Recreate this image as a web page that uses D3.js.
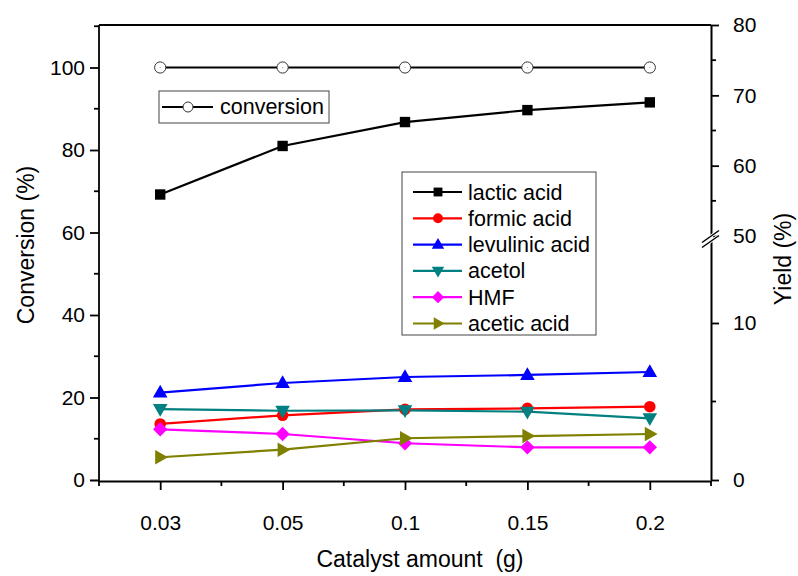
<!DOCTYPE html>
<html><head><meta charset="utf-8">
<script src="https://cdn.jsdelivr.net/npm/d3@7"></script>
<style>
html,body{margin:0;padding:0;background:#fff;}
text{font-family:"Liberation Sans",Arial,sans-serif;fill:#000;}
</style></head>
<body>
<svg id="chart" width="798" height="576"></svg>
<script>
// ---- data ----
const categories = ["0.03", "0.05", "0.1", "0.15", "0.2"];
const conversion = [100, 100, 100, 100, 100];
const lacticAcid = [55.9, 62.8, 66.2, 67.9, 69.0];
const formicAcid = [3.57, 4.12, 4.50, 4.56, 4.67];
const levulinicAcid = [5.57, 6.18, 6.56, 6.69, 6.88];
const acetol = [4.52, 4.41, 4.44, 4.35, 3.93];
const hmf = [3.23, 2.93, 2.34, 2.08, 2.08];
const aceticAcid = [1.45, 1.93, 2.66, 2.80, 2.93];
const leftTicks = [0, 20, 40, 60, 80, 100];
const leftMinor = [10, 30, 50, 70, 90, 110];
const rightTicks = [0, 10, 50, 60, 70, 80];
const rightMinor = [5, 55, 65, 75];
const seriesNames = ["lactic acid", "formic acid", "levulinic acid", "acetol", "HMF", "acetic acid"];

const svg = d3.select("#chart");
const X0 = 99, X1 = 711, YB = 480, YT = 25;

const x = d3.scalePoint().domain(categories).range([X0, X1]).padding(0.5);
const yL = d3.scaleLinear().domain([0, 100]).range([YB, 67.5]);
const yR = d3.scaleLinear().domain([0, 10, 50, 80]).range([YB, 323, 236, YT]);

// marker shapes
function marker(type) {
  switch (type) {
    case "square": return "M-5.2,-5.2H5.2V5.2H-5.2Z";
    case "circle": return d3.symbol(d3.symbolCircle, Math.PI * 5.8 * 5.8)();
    case "up": return "M0,-7.8L7.3,5H-7.3Z";
    case "down": return "M0,7.8L7.3,-5H-7.3Z";
    case "right": return "M7.8,0L-5,-7.3V7.3Z";
    case "diamond": return "M0,-7.2L7.2,0L0,7.2L-7.2,0Z";
  }
}

const series = [
  { name: seriesNames[0], values: lacticAcid, color: "#000000", m: "square" },
  { name: seriesNames[1], values: formicAcid, color: "#ff0000", m: "circle" },
  { name: seriesNames[2], values: levulinicAcid, color: "#0000ff", m: "up" },
  { name: seriesNames[3], values: acetol, color: "#008080", m: "down" },
  { name: seriesNames[4], values: hmf, color: "#ff00ff", m: "diamond" },
  { name: seriesNames[5], values: aceticAcid, color: "#808000", m: "right" }
];

// ---- axes ----
const fs = "21px";
// bottom
const gB = svg.append("g").attr("transform", `translate(0,${YB + 1})`);
gB.call(d3.axisBottom(x).tickSize(9).tickSizeOuter(0).tickPadding(25));
const minorX = d3.range(6).map(i => X0 + i * x.step());
minorX.forEach(mx => gB.append("line").attr("x1", mx).attr("x2", mx).attr("y1", 0).attr("y2", 5));
gB.selectAll("text").style("font-size", fs);

// left
const gL = svg.append("g").attr("transform", `translate(${X0},0)`);
gL.call(d3.axisLeft(yL).tickValues(leftTicks).tickSize(9).tickSizeOuter(0).tickPadding(5));
gL.select(".domain").remove();
gL.append("line").attr("x1", 0).attr("x2", 0).attr("y1", YT).attr("y2", YB + 2);
leftMinor.forEach(v => gL.append("line").attr("x1", 0).attr("x2", -5).attr("y1", yL(v)).attr("y2", yL(v)));
gL.selectAll("text").style("font-size", fs);

// right
const gR = svg.append("g").attr("transform", `translate(${X1},0)`);
gR.call(d3.axisRight(yR).tickValues(rightTicks).tickSize(8).tickSizeOuter(0).tickPadding(14).tickFormat(d3.format("d")));
rightMinor.forEach(v => gR.append("line").attr("x1", 0).attr("x2", 5).attr("y1", yR(v)).attr("y2", yR(v)));
gR.selectAll("text").style("font-size", fs);

svg.selectAll(".domain").attr("stroke-width", 2);
svg.selectAll(".tick line").attr("stroke-width", 1.8);
svg.selectAll("g > line").attr("stroke", "#000").attr("stroke-width", 1.8);
gL.select("line").attr("stroke-width", 2);

// top frame
svg.append("line").attr("x1", X0).attr("x2", X1).attr("y1", YT).attr("y2", YT)
  .attr("stroke", "#000").attr("stroke-width", 1.8);

// axis break on right axis
const yb = 239;
[-2.5, 2.5].forEach(o => {
  svg.append("line").attr("x1", X1 - 9).attr("y1", yb + o + 6).attr("x2", X1 + 8).attr("y2", yb + o - 6)
    .attr("stroke", "#fff").attr("stroke-width", 3);
});
svg.append("rect").attr("x", X1 - 2).attr("y", yb - 2.5).attr("width", 4).attr("height", 5).attr("fill", "#fff");
[-2.5, 2.5].forEach(o => {
  svg.append("line").attr("x1", X1 - 9).attr("y1", yb + o + 6).attr("x2", X1 + 8).attr("y2", yb + o - 6)
    .attr("stroke", "#000").attr("stroke-width", 1.5);
});

// axis titles
svg.append("text").attr("x", 420).attr("y", 567).attr("text-anchor", "middle")
  .style("font-size", "23px").style("white-space", "pre").text("Catalyst amount  (g)");
svg.append("text").attr("transform", "translate(34,245) rotate(-90)").attr("text-anchor", "middle")
  .style("font-size", "23px").text("Conversion (%)");
svg.append("text").attr("transform", "translate(791,259) rotate(-90)").attr("text-anchor", "middle")
  .style("font-size", "23px").text("Yield (%)");

// ---- data ----
const plot = svg.append("g");
const lineL = d3.line().x((d, i) => x(categories[i])).y(d => yL(d));
const lineR = d3.line().x((d, i) => x(categories[i])).y(d => yR(d));

series.forEach(s => {
  plot.append("path").attr("d", lineR(s.values)).attr("fill", "none")
    .attr("stroke", s.color).attr("stroke-width", 2.2);
});
series.forEach(s => {
  plot.selectAll(null).data(s.values).enter().append("path")
    .attr("d", marker(s.m))
    .attr("transform", (d, i) => `translate(${x(categories[i])},${yR(d)})`)
    .attr("fill", s.color);
});

// conversion
plot.append("path").attr("d", lineL(conversion)).attr("fill", "none").attr("stroke", "#000").attr("stroke-width", 2.2);
conversion.forEach((v, i) => {
  plot.append("circle").attr("cx", x(categories[i])).attr("cy", yL(v)).attr("r", 5.6)
    .attr("fill", "#fff").attr("stroke", "#333").attr("stroke-width", 1);
  plot.append("circle").attr("cx", x(categories[i])).attr("cy", yL(v)).attr("r", 0.6).attr("fill", "#999");
});

// ---- legends ----
const lg1 = svg.append("g");
lg1.append("rect").attr("x", 159).attr("y", 91).attr("width", 170).attr("height", 32)
  .attr("fill", "#fff").attr("stroke", "#444").attr("stroke-width", 1);
lg1.append("line").attr("x1", 162).attr("x2", 213).attr("y1", 107).attr("y2", 107).attr("stroke", "#000").attr("stroke-width", 2.2);
lg1.append("circle").attr("cx", 188).attr("cy", 107).attr("r", 5).attr("fill", "#fff").attr("stroke", "#333").attr("stroke-width", 1);
lg1.append("text").attr("x", 220).attr("y", 114).style("font-size", "21.5px").text("conversion");

const lg2 = svg.append("g");
lg2.append("rect").attr("x", 402).attr("y", 172).attr("width", 194).attr("height", 163)
  .attr("fill", "#fff").attr("stroke", "#444").attr("stroke-width", 1);
series.forEach((s, i) => {
  const yy = 192 + i * 26.3;
  lg2.append("line").attr("x1", 413).attr("x2", 462).attr("y1", yy).attr("y2", yy)
    .attr("stroke", s.color).attr("stroke-width", 2.2);
  lg2.append("path").attr("d", marker(s.m)).attr("transform", `translate(438,${yy}) scale(0.85)`).attr("fill", s.color);
  lg2.append("text").attr("x", 468).attr("y", yy + 7.5).style("font-size", "21.5px").text(s.name);
});
</script>
</body></html>
